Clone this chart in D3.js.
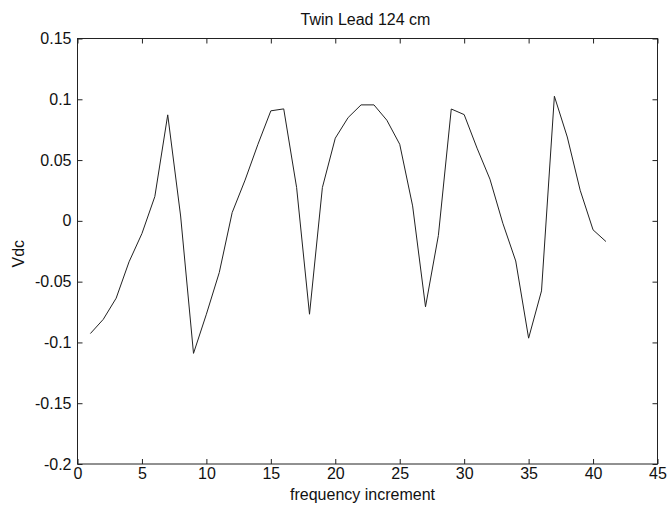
<!doctype html>
<html>
  <head>
    <script src="https://cdnjs.cloudflare.com/ajax/libs/d3/7.8.5/d3.min.js"></script>
    <style>
      body { margin: 0; background: #fff; }
      text { font-family: "Liberation Sans", Arial, sans-serif; fill: #111; }
    </style>
  </head>
  <body>
    <svg></svg>
    <script>
      var width = 668,
          height = 507;
      var margin = {left: 77.5, right: 10.5, top: 38.5, bottom: 43};

      // data
      var freqIndex = d3.range(1, 42);
      var vdc = [-0.0927, -0.081, -0.0636, -0.0337, -0.0104, 0.020, 0.0872, 0.004, -0.109, -0.0768,
                 -0.0425, 0.0068, 0.0335, 0.063, 0.0905, 0.0921, 0.0274, -0.0768, 0.0274, 0.068,
                 0.085, 0.0954, 0.0954, 0.0828, 0.063, 0.0123, -0.0707, -0.012, 0.092, 0.0874,
                 0.0598, 0.0343, -0.002, -0.033, -0.0965, -0.0576, 0.1025, 0.069, 0.0252, -0.0074,
                 -0.017];
      var xTicks = [0, 5, 10, 15, 20, 25, 30, 35, 40, 45];
      var yTicks = [0.15, 0.1, 0.05, 0, -0.05, -0.1, -0.15, -0.2];
      var yTickLabels = ["0.15", "0.1", "0.05", "0", "-0.05", "-0.1", "-0.15", "-0.2"];

      var svg = d3.select("svg").attr("width", width).attr("height", height);

      var x = d3.scaleLinear().domain([0, 45]).range([margin.left, width - margin.right]);
      var y = d3.scaleLinear().domain([-0.2, 0.15]).range([height - margin.bottom, margin.top]);

      // frame
      svg.append("rect")
        .attr("x", x(0)).attr("y", y(0.15))
        .attr("width", x(45) - x(0)).attr("height", y(-0.2) - y(0.15))
        .attr("fill", "none").attr("stroke", "#222").attr("stroke-width", 1);

      var fmtY = function(d) { return yTickLabels[yTicks.indexOf(d)]; };

      // axes with inward ticks (box style)
      svg.append("g").attr("transform", "translate(0," + y(-0.2) + ")")
        .call(d3.axisBottom(x).tickValues(xTicks).tickSizeInner(-5).tickSizeOuter(0).tickPadding(4))
        .call(g => g.select(".domain").remove())
        .call(g => g.selectAll("text").attr("font-size", "16px"));
      svg.append("g").attr("transform", "translate(0," + y(0.15) + ")")
        .call(d3.axisTop(x).tickValues(xTicks).tickSizeInner(-5).tickSizeOuter(0).tickFormat(""))
        .call(g => g.select(".domain").remove());
      svg.append("g").attr("transform", "translate(" + x(0) + ",0)")
        .call(d3.axisLeft(y).tickValues(yTicks).tickFormat(fmtY).tickSizeInner(-5).tickSizeOuter(0).tickPadding(6))
        .call(g => g.select(".domain").remove())
        .call(g => g.selectAll("text").attr("font-size", "16px"));
      svg.append("g").attr("transform", "translate(" + x(45) + ",0)")
        .call(d3.axisRight(y).tickValues(yTicks).tickSizeInner(-5).tickSizeOuter(0).tickFormat(""))
        .call(g => g.select(".domain").remove());
      svg.selectAll(".tick line").attr("stroke", "#222");

      // the trace
      var line = d3.line().x((d, i) => x(freqIndex[i])).y(d => y(d));
      svg.append("path").datum(vdc)
        .attr("d", line)
        .attr("fill", "none")
        .attr("stroke", "#222")
        .attr("stroke-width", 1);

      // labels
      var midX = (x(0) + x(45)) / 2;
      svg.append("text").attr("x", midX - 2).attr("y", 25)
        .attr("text-anchor", "middle").attr("font-size", "16px").text("Twin Lead 124 cm");
      svg.append("text").attr("x", midX - 5).attr("y", 500)
        .attr("text-anchor", "middle").attr("font-size", "16px").text("frequency increment");
      svg.append("text")
        .attr("transform", "translate(24," + (y(-0.027)) + ") rotate(-90)")
        .attr("text-anchor", "middle").attr("font-size", "16px").text("Vdc");
    </script>
  </body>
</html>
